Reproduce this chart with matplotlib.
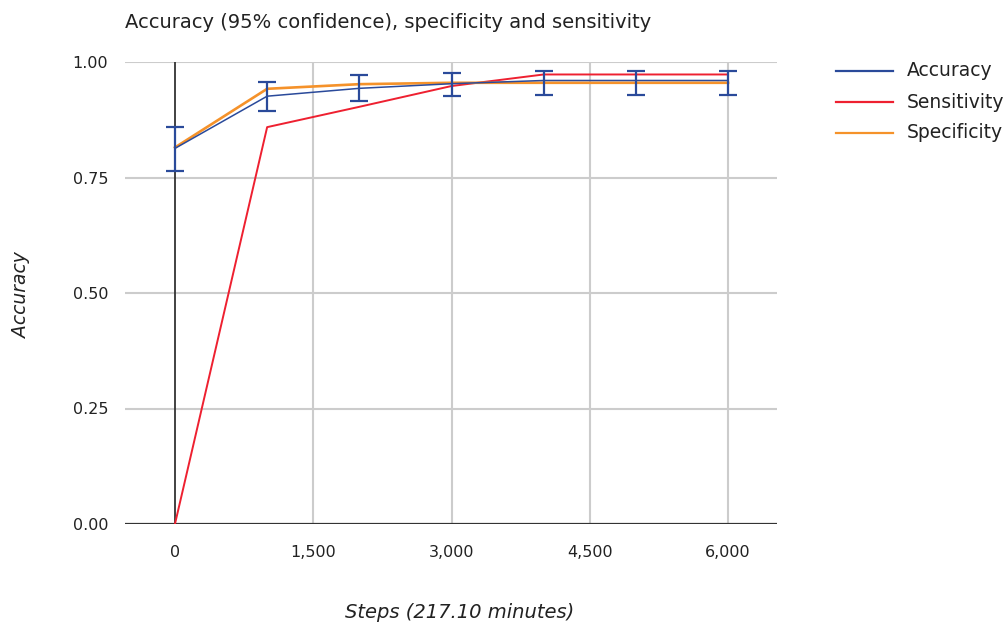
import matplotlib
matplotlib.use("Agg")
import matplotlib.pyplot as plt
from matplotlib.lines import Line2D

plt.rcParams['font.family'] = ['DejaVu Sans']

# data
steps = [0, 1000, 2000, 3000, 4000, 5000, 6000]
accuracy = [0.813, 0.926, 0.943, 0.953, 0.960, 0.960, 0.960]
acc_low = [0.763, 0.895, 0.916, 0.926, 0.929, 0.929, 0.929]
acc_high = [0.859, 0.957, 0.972, 0.977, 0.981, 0.981, 0.981]
sensitivity = [0.0, 0.859, 0.903, 0.948, 0.973, 0.973, 0.973]
specificity = [0.815, 0.942, 0.952, 0.955, 0.955, 0.955, 0.955]

x_ticks = [0, 1500, 3000, 4500, 6000]
x_tick_labels = ["0", "1,500", "3,000", "4,500", "6,000"]
y_ticks = [0.0, 0.25, 0.5, 0.75, 1.0]
y_tick_labels = ["0.00", "0.25", "0.50", "0.75", "1.00"]

BLUE = "#2a4a9a"
RED = "#ee2030"
ORANGE = "#f5922a"
GRID = "#cccccc"
TEXT = "#222222"

fig = plt.figure(figsize=(10.08, 6.25), dpi=100)
ax = fig.add_axes([125 / 1008, 1 - 524 / 625, (777 - 125) / 1008, (524 - 62) / 625])

ax.set_xlim(-542, 6531)
ax.set_ylim(0, 1)

# gridlines
for yt in y_ticks[1:]:
    ax.axhline(yt, color=GRID, lw=1.5, zorder=0)
for xt in x_ticks[1:]:
    ax.axvline(xt, color=GRID, lw=1.5, zorder=0)
ax.axhline(0, color="#333333", lw=1.6, zorder=1)
ax.axvline(0, color="#333333", lw=1.3, zorder=1)

ax.plot(steps, sensitivity, color=RED, lw=1.4, zorder=3)
ax.plot(steps, specificity, color=ORANGE, lw=1.9, zorder=3)
ax.plot(steps, accuracy, color=BLUE, lw=1.1, zorder=4)
yerr = [[a - lo for a, lo in zip(accuracy, acc_low)],
        [hi - a for a, hi in zip(accuracy, acc_high)]]
ax.errorbar(steps, accuracy, yerr=yerr, fmt="none", ecolor=BLUE,
            elinewidth=1.6, capsize=6.5, capthick=1.6, zorder=5)

for s in ax.spines.values():
    s.set_visible(False)
ax.set_xticks(x_ticks)
ax.set_xticklabels(x_tick_labels)
ax.set_yticks(y_ticks)
ax.set_yticklabels(y_tick_labels)
ax.tick_params(length=0, labelsize=11.5, labelcolor=TEXT)
ax.tick_params(axis="x", pad=15)
ax.tick_params(axis="y", pad=12)

fig.text(125 / 1008, 1 - 22 / 625, "Accuracy (95% confidence), specificity and sensitivity",
         fontsize=14, color=TEXT, va="center", ha="left")
fig.text(460 / 1008, 1 - 612 / 625, "Steps (217.10 minutes)", fontsize=14,
         style="italic", color=TEXT, ha="center", va="center")
fig.text(22 / 1008, 1 - 295 / 625, "Accuracy", fontsize=13.5, style="italic",
         color=TEXT, ha="center", va="center", rotation=90)

# legend
labels = ["Accuracy", "Sensitivity", "Specificity"]
colors = [BLUE, RED, ORANGE]
for i, (lab, col) in enumerate(zip(labels, colors)):
    yy = 1 - (71 + 31 * i) / 625
    fig.add_artist(Line2D([836 / 1008, 893 / 1008], [yy, yy], color=col, lw=1.6))
    fig.text(907 / 1008, yy, lab, fontsize=13.5, color=TEXT, va="center", ha="left")

fig.savefig("out.png", dpi=100)
